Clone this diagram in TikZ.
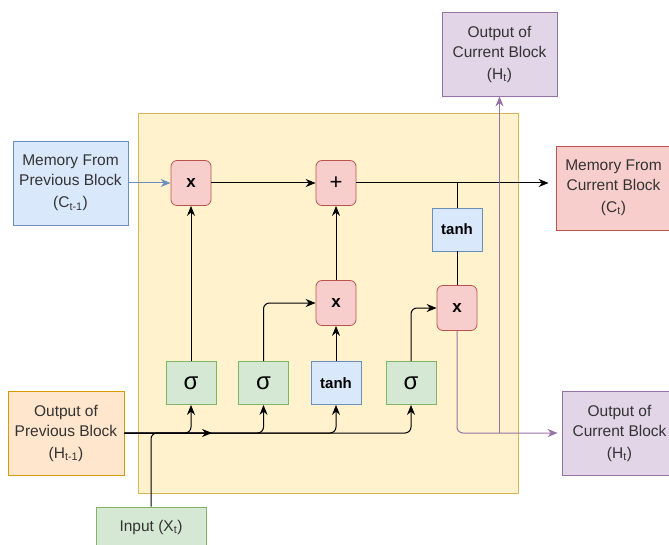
\documentclass[tikz,border=0pt]{standalone}
\usepackage{fontspec}
\setmainfont{Liberation Sans}
\usetikzlibrary{positioning,arrows.meta}

\definecolor{redfill}{HTML}{F8CECC}
\definecolor{redline}{HTML}{B85450}
\definecolor{bluefill}{HTML}{DAE8FC}
\definecolor{blueline}{HTML}{6C8EBF}
\definecolor{greenfill}{HTML}{D5E8D4}
\definecolor{greenline}{HTML}{82B366}
\definecolor{purplefill}{HTML}{E1D5E7}
\definecolor{purpleline}{HTML}{9673A6}
\definecolor{orangefill}{HTML}{FFE6CC}
\definecolor{orangeline}{HTML}{D79B00}
\definecolor{cellfill}{HTML}{FFF2CC}
\definecolor{cellline}{HTML}{D6B656}
\definecolor{textgrey}{HTML}{333333}

\tikzset{
  iobox/.style={draw, line width=0.8pt, minimum width=115pt, minimum height=84pt,
    inner sep=0pt, align=center, text=textgrey, font=\fontsize{15.5}{20}\selectfont},
  opbox/.style={draw=redline, fill=redfill, line width=0.8pt, rounded corners=6pt,
    minimum width=40pt, minimum height=45pt, inner sep=0pt, font=\bfseries\fontsize{17}{17}\selectfont},
  actbox/.style={draw, line width=0.8pt, minimum width=50pt, minimum height=43pt,
    inner sep=0pt, font=\fontsize{24}{24}\selectfont},
  arr/.style={-{Stealth[length=10pt,width=8pt]}, line width=1pt},
  wire/.style={line width=1pt}
}

\begin{document}
\begin{tikzpicture}[x=1pt,y=-1pt]
\useasboundingbox (0,0) rectangle (669,545);
\begin{scope}
\clip (0,0) rectangle (669,545);

% the cell
\node[draw=cellline, fill=cellfill, line width=0.8pt, minimum width=380pt,
  minimum height=380pt, inner sep=0pt] (cell) at (328,303) {};

% inputs and outputs
\node[iobox, draw=blueline, fill=bluefill] (memprev) at (70.5,183)
  {Memory From\\Previous Block\\[2pt](C\textsubscript{t-1})};
\node[iobox, draw=orangeline, fill=orangefill, minimum width=116pt] (outprev) at (66,433)
  {Output of\\Previous Block\\[2pt](H\textsubscript{t-1})};
\node[iobox, draw=greenline, fill=greenfill, minimum width=110pt, minimum height=40pt] (input) at (151,527)
  {Input (X\textsubscript{t})};
\node[iobox, draw=purpleline, fill=purplefill] (outtop) at (499.5,54)
  {Output of\\Current Block\\[2pt](H\textsubscript{t})};
\node[iobox, draw=redline, fill=redfill] (memcur) at (613.5,188)
  {Memory From\\Current Block\\[2pt](C\textsubscript{t})};
\node[iobox, draw=purpleline, fill=purplefill] (outcur) at (619.5,433)
  {Output of\\Current Block\\[2pt](H\textsubscript{t})};

% pointwise operations
\node[opbox] (forget) at (191,183) {x};
\node[opbox, font=\fontsize{22}{22}\selectfont] (add) at (336,183) {+};
\node[opbox] (update) at (336,303) {x};
\node[opbox] (outmul) at (457,308) {x};

% activations
\node[actbox, draw=greenline, fill=greenfill] (sig1) at (191,383) {σ};
\node[actbox, draw=greenline, fill=greenfill] (sig2) at (263.5,383) {σ};
\node[actbox, draw=blueline, fill=bluefill, font=\bfseries\fontsize{15}{15}\selectfont] (tanhin) at (336,383) {tanh};
\node[actbox, draw=greenline, fill=greenfill] (sig3) at (411,383) {σ};
\node[actbox, draw=blueline, fill=bluefill, font=\bfseries\fontsize{15}{15}\selectfont] (tanhout) at (457,229.5) {tanh};

\coordinate (inend) at (212,433);
\coordinate (csplit) at (tanhout.north |- add.east);
\coordinate (cend) at (memcur.west |- add.east);
\coordinate (hsplit) at (outtop.south |- outcur.west);

% hidden state and input feeding the gates
\draw[arr, rounded corners=6pt] (outprev.east) -| (sig1.south);
\draw[arr, rounded corners=6pt] (outprev.east) -| (sig2.south);
\draw[arr, rounded corners=6pt] (outprev.east) -| (tanhin.south);
\draw[arr, rounded corners=6pt] (outprev.east) -| (sig3.south);
\draw[arr, rounded corners=6pt] (input.north) |- (inend);

% gates to operations
\draw[arr] (sig1.north) -- (forget.south);
\draw[arr, rounded corners=6pt] (sig2.north) |- (update.west);
\draw[arr] (tanhin.north) -- (update.south);
\draw[arr, rounded corners=6pt] (sig3.north) |- (outmul.west);
\draw[arr] (update.north) -- (add.south);

% cell state
\draw[arr, draw=blueline] (memprev.east) -- (forget.west);
\draw[arr] (forget.east) -- (add.west);
\draw[arr, shorten >=7pt] (add.east) -- (cend);
\draw[wire] (csplit) -- (tanhout.north);
\draw[wire] (tanhout.south) -- (outmul.north);

% new hidden state
\draw[arr, draw=purpleline, rounded corners=6pt, shorten >=4pt] (outmul.south) |- (outcur.west);
\draw[arr, draw=purpleline] (hsplit) -- (outtop.south);
\end{scope}
\end{tikzpicture}
\end{document}
